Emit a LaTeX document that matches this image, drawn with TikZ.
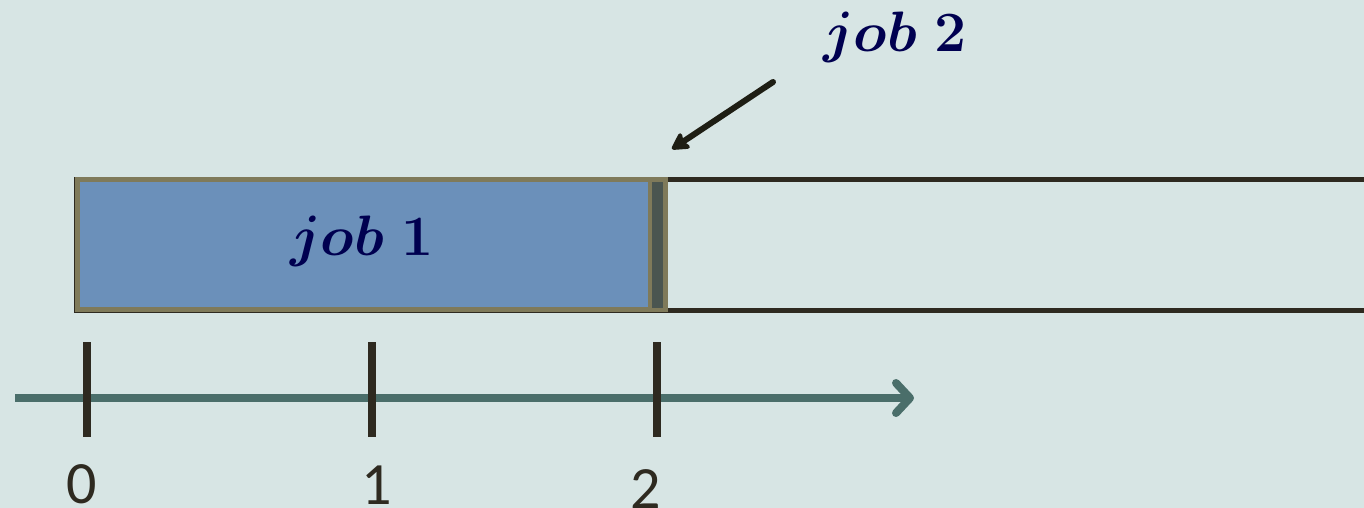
\RequirePackage{fix-cm}
\documentclass[tikz,border=0pt]{standalone}
\usepackage{fontspec}
\newfontfamily\numfont{Carlito}
\usetikzlibrary{arrows.meta}
\definecolor{bg}{HTML}{D7E5E4}
\definecolor{jobfill}{HTML}{6B90BA}
\definecolor{olive}{HTML}{7F7A5A}
\definecolor{darkline}{HTML}{2E2A20}
\definecolor{strip}{HTML}{4A5550}
\definecolor{axiscol}{HTML}{4A6E6A}
\definecolor{navy}{HTML}{000050}
\definecolor{arrowcol}{HTML}{1E1E14}
\tikzset{
  jobbox/.style={draw=olive, line width=5pt, fill=jobfill, minimum width=588pt, minimum height=130pt, inner sep=0pt, outer sep=0pt},
  stripbox/.style={draw=olive, line width=4pt, fill=strip, minimum width=15pt, minimum height=130pt, inner sep=0pt, outer sep=0pt},
  slotline/.style={draw=darkline, line width=5pt},
  tick/.style={draw=darkline, line width=8pt},
  axisline/.style={draw=axiscol, line width=8pt, -{Straight Barb[length=14pt, width=30pt, line width=8pt, line cap=round, line join=round]}},
  joblabel/.style={text=navy, font=\fontsize{57}{60}\selectfont\boldmath, inner sep=0pt},
  numlabel/.style={text=darkline, font=\fontsize{60}{64}\selectfont\numfont, inner sep=0pt},
  pointer/.style={draw=arrowcol, line width=6pt, line cap=round, -{Stealth[length=20pt, width=22pt, inset=4pt, round]}}
}
\begin{document}
\begin{tikzpicture}[x=1pt,y=-1pt]
\useasboundingbox[fill=bg] (0,0) rectangle (1364,508);
% job 2 slot
\coordinate (s1) at (76,179);
\coordinate (s2) at (1364,179);
\coordinate (s3) at (76,310.5);
\coordinate (s4) at (1364,310.5);
\draw[slotline] (s2) -- (s1) -- (s3) -- (s4);
% job 1 box
\node[jobbox] (j1) at (371.5,244.5) {};
\node[stripbox] (st) at (657.5,244.5) {};
\node[joblabel] (l1) at (362,241) {$job\ \mathbf{1}$};
% job 2 label and arrow
\node[joblabel] (l2) at (895,37) {$job\ \mathbf{2}$};
\coordinate (p1) at (773,82);
\coordinate (p2) at (672,149);
\draw[pointer] (p1) -- (p2);
% axis
\coordinate (a0) at (15,398);
\coordinate (a1) at (914,398);
\draw[axisline] (a0) -- (a1);
\coordinate (t0a) at (86.5,342); \coordinate (t0b) at (86.5,437);
\coordinate (t1a) at (372,342); \coordinate (t1b) at (372,437);
\coordinate (t2a) at (657,342); \coordinate (t2b) at (657,437);
\draw[tick] (t0a) -- (t0b);
\draw[tick] (t1a) -- (t1b);
\draw[tick] (t2a) -- (t2b);
\node[numlabel] (n0) at (82,484) {0};
\node[numlabel] (n1) at (377,485) {1};
\node[numlabel] (n2) at (646,489) {2};
\end{tikzpicture}
\end{document}
